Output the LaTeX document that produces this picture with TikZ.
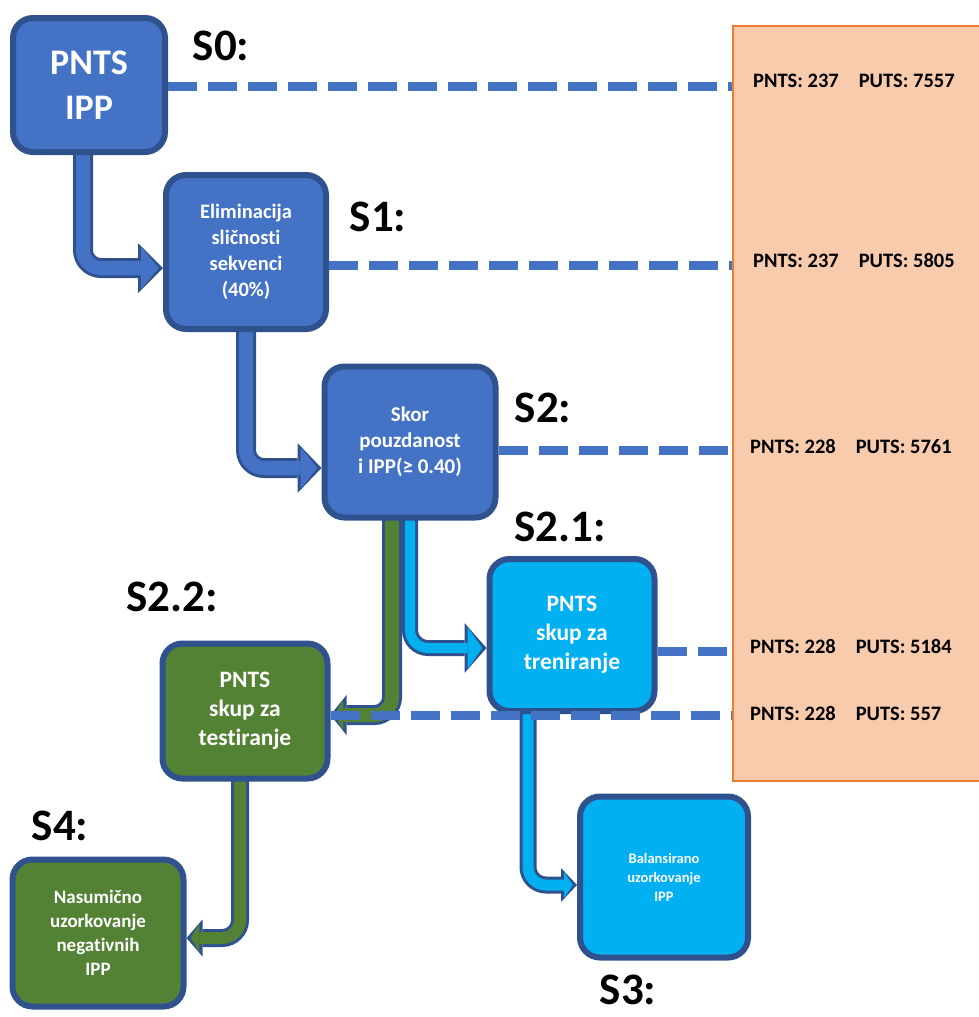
\documentclass[tikz,border=0pt]{standalone}
\usepackage{fontspec}
\setmainfont{Carlito}[Ligatures={NoCommon,NoRequired,NoContextual}]
\usepackage{xcolor}
\usetikzlibrary{arrows.meta,backgrounds}

\definecolor{boxblue}{HTML}{4472C4}
\definecolor{boxcyan}{HTML}{00B0F0}
\definecolor{boxgreen}{HTML}{548235}
\definecolor{edgeblue}{HTML}{2F528F}
\definecolor{panelfill}{HTML}{F8CBAD}
\definecolor{paneledge}{HTML}{ED7D31}

\tikzset{
  stage/.style={draw=edgeblue, line width=6pt, rounded corners=20pt,
    text=white, align=center, inner sep=0pt},
  steplabel/.style={inner sep=0pt, font=\fontsize{45}{54}\selectfont\bfseries},
  countline/.style={boxblue, line width=9pt, dash pattern=on 29pt off 11pt},
  count/.style={anchor=west, inner sep=0pt, font=\fontsize{20.5}{24}\selectfont\bfseries},
}

% block arrow: fill colour, shaft width, head length, head width, path
\newcommand{\flowarrow}[5]{%
  \pgfmathsetmacro{\innershaft}{#2-6}%
  \pgfmathsetmacro{\innerlen}{#3-7.5}%
  \pgfmathsetmacro{\innerwid}{#4-8.5}%
  \draw[edgeblue, line width=#2pt, rounded corners=18pt,
    -{Triangle[length=#3pt, width=#4pt, line width=0pt]}] #5;
  \draw[#1, line width=\innershaft pt, rounded corners=18pt, shorten >=4.3pt,
    -{Triangle[length=\innerlen pt, width=\innerwid pt, line width=0pt]}] #5;
}

\begin{document}
\begin{tikzpicture}[x=1pt, y=-1pt]
  \useasboundingbox (0,0) rectangle (978,1017);

  % stages
  \node[stage, fill=boxblue, minimum width=152pt, minimum height=134pt,
    font=\fontsize{36}{45}\selectfont\bfseries] (s0) at (89,85) {PNTS\\IPP};
  \node[stage, fill=boxblue, minimum width=160pt, minimum height=154pt,
    font=\fontsize{20.5}{26}\selectfont\bfseries] (s1) at (246,252)
    {Eliminacija\\sličnosti\\sekvenci\\(40\%)};
  \node[stage, fill=boxblue, minimum width=171pt, minimum height=151pt,
    font=\fontsize{21}{26}\selectfont\bfseries] (s2) at (410,442)
    {Skor\\pouzdanost\\i IPP(≥ 0.40)};
  \node[stage, fill=boxcyan, minimum width=165pt, minimum height=152pt,
    font=\fontsize{23.5}{29}\selectfont\bfseries] (s21) at (572,635)
    {PNTS\\skup za\\treniranje};
  \node[stage, fill=boxgreen, minimum width=165pt, minimum height=135pt,
    font=\fontsize{23.5}{29}\selectfont\bfseries] (s22) at (245,711)
    {PNTS\\skup za\\testiranje};
  \node[stage, fill=boxcyan, minimum width=168pt, minimum height=161pt,
    font=\fontsize{14.5}{19}\selectfont\bfseries] (s3) at (664,877)
    {Balansirano\\uzorkovanje\\IPP};
  \node[stage, fill=boxgreen, minimum width=171pt, minimum height=147pt,
    font=\fontsize{19}{24}\selectfont\bfseries] (s4) at (98,933)
    {Nasumično\\uzorkovanje\\negativnih\\IPP};

  % step labels
  \node[steplabel] (l0) at (221,46) {S0:};
  \node[steplabel] (l1) at (378,217) {S1:};
  \node[steplabel] (l2) at (543,408) {S2:};
  \node[steplabel] (l21) at (560,527) {S2.1:};
  \node[steplabel] (l22) at (172,597) {S2.2:};
  \node[steplabel] (l4) at (60,826) {S4:};
  \node[steplabel] (l3) at (628,990) {S3:};

  % counts panel
  \node[draw=paneledge, fill=panelfill, line width=2.5pt, inner sep=0pt,
    minimum width=251pt, minimum height=755pt] (panel) at (858.5,403.5) {};
  \node[count] (c0) at (753,81) {PNTS: 237\hspace{20pt}PUTS: 7557};
  \node[count] (c1) at (753,260) {PNTS: 237\hspace{20pt}PUTS: 5805};
  \node[count] (c2) at (750,446) {PNTS: 228\hspace{20pt}PUTS: 5761};
  \node[count] (c21) at (750,646) {PNTS: 228\hspace{20pt}PUTS: 5184};
  \node[count] (c22) at (750,713) {PNTS: 228\hspace{20pt}PUTS: 557};

  % flow arrows, under the boxes
  \begin{scope}[on background layer]
    \flowarrow{boxblue}{20}{25}{50}{([xshift=-6pt,yshift=6pt]s0.south) |- ([yshift=-16pt]s1.west)}
    \flowarrow{boxblue}{20}{24}{50}{([yshift=6pt]s1.south) |- ([yshift=-26pt]s2.west)}
    % split into training and test set
    \flowarrow{boxcyan}{16}{22}{50}{([yshift=6pt]s2.south) |- ([yshift=-13pt]s21.west)}
    \flowarrow{boxgreen}{20}{16}{40}{([xshift=-18pt,yshift=6pt]s2.south) |- ([yshift=-4pt]s22.east)}
    % sampling
    \flowarrow{boxcyan}{17}{16}{34}{([xshift=-44pt,yshift=6pt]s21.south) |- ([yshift=-8pt]s3.west)}
    \flowarrow{boxgreen}{18}{16}{37}{([xshift=-5pt,yshift=6pt]s22.south) |- ([yshift=-5pt]s4.east)}
  \end{scope}

  % dashed links to the counts
  \draw[countline] ([yshift=-1pt]s0.east) -- ([yshift=-1pt]s0.east -| panel.west);
  \draw[countline] ([yshift=-13pt]s1.east) -- ([yshift=-13pt]s1.east -| panel.west);
  \draw[countline] ([yshift=-8pt]s2.east) -- ([yshift=-8pt]s2.east -| panel.west);
  \draw[countline] ([yshift=-16pt]s21.east) -- ([yshift=-16pt]s21.east -| panel.west);
  \draw[countline] ([yshift=-4pt]s22.east) -- ([yshift=-4pt]s22.east -| panel.west);
\end{tikzpicture}
\end{document}
